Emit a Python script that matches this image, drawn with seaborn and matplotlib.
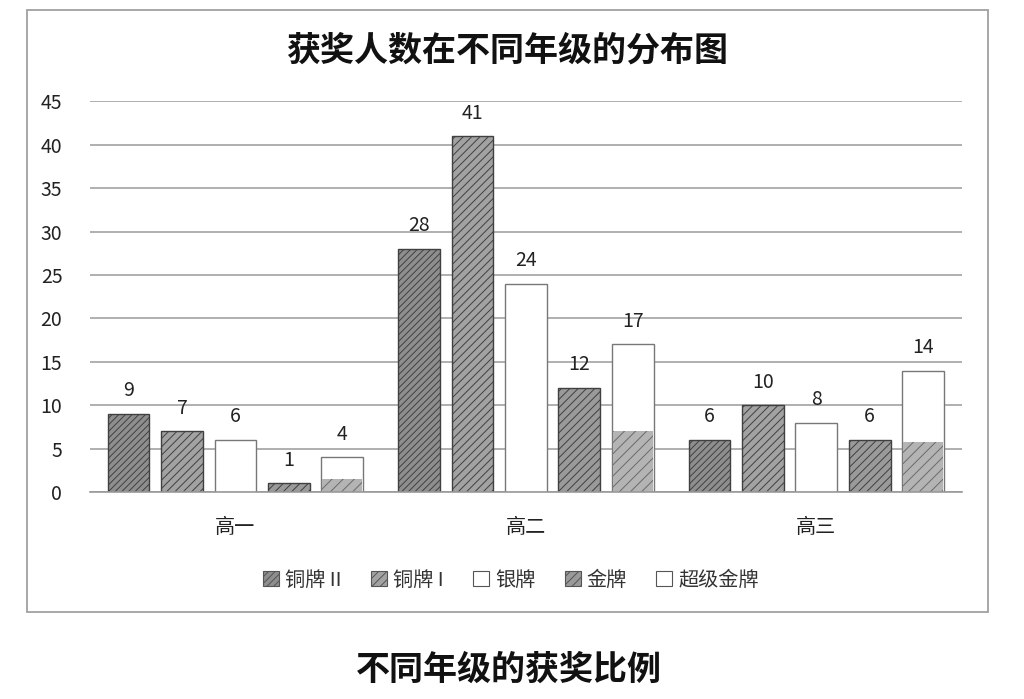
import seaborn as sns
import matplotlib.pyplot as plt
import pandas as pd
from matplotlib.patches import Patch, Rectangle

# data
grades = ['高一', '高二', '高三']
medals = ['铜牌 II', '铜牌 I', '银牌', '金牌', '超级金牌']
bronze2 = [9, 28, 6]
bronze1 = [7, 41, 10]
silver = [6, 24, 8]
gold = [1, 12, 6]
super_gold = [4, 17, 14]
# hatched lower part inside the 超级金牌 bars (sketch look)
super_fill = [1.5, 7, 5.8]

rows = []
for medal, vals in zip(medals, [bronze2, bronze1, silver, gold, super_gold]):
    for g, v in zip(grades, vals):
        rows.append({'年级': g, '人数': v, '奖项': medal})
df = pd.DataFrame(rows)

sns.set_style('white')
plt.rcParams['font.family'] = ['Noto Sans CJK SC', 'DejaVu Sans']
plt.rcParams['hatch.color'] = '#3a3a3a'
plt.rcParams['hatch.linewidth'] = 0.7

fig = plt.figure(figsize=(10.24, 6.99), dpi=100)
ax = fig.add_axes([0.088, 0.296, 0.851, 0.559])

sns.barplot(data=df, x='年级', y='人数', hue='奖项', hue_order=medals,
            width=0.92, gap=0.22, palette=['white'] * 5, legend=False, ax=ax)

faces = ['#8e8e8e', '#a2a2a2', 'white', '#9a9a9a', 'white']
hatches = ['/////', '////', '', '////', '']
for cont, fc, h in zip(ax.containers, faces, hatches):
    for bar in cont:
        bar.set_facecolor(fc)
        bar.set_hatch(h)
        bar.set_edgecolor('#404040' if h else '#777777')
        bar.set_linewidth(1.0)

# partial hatched fill inside the super gold bars
sg = ax.containers[4]
xs = [b.get_x() + b.get_width() / 2 for b in sg]
w = sg[0].get_width()
ax.bar(xs, super_fill, width=w * 0.95, color='#b4b4b4', hatch='///',
       edgecolor='#6a6a6a', linewidth=0, zorder=2.5)

for cont in ax.containers[:5]:
    ax.bar_label(cont, padding=9, fontsize=14, color='#222222')

ax.set_xlim(-0.5, 2.5)
ax.set_ylim(0, 45)
ax.set_yticks(range(0, 46, 5))
ax.yaxis.grid(True, color='#9a9a9a', linewidth=1.1)
ax.set_axisbelow(True)
for s in ['top', 'right', 'left']:
    ax.spines[s].set_visible(False)
ax.spines['bottom'].set_color('#999999')
ax.spines['bottom'].set_linewidth(1.2)
ax.tick_params(length=0, labelsize=14, colors='#222222')
ax.tick_params(axis='x', pad=18, labelsize=14.5)
ax.tick_params(axis='y', pad=20)
ax.set_xlabel('')
ax.set_ylabel('')

handles = [Patch(facecolor=fc, hatch=h, edgecolor='#555555', linewidth=0.8)
           for fc, h in zip(faces, hatches)]
ax.legend(handles, medals, loc='upper center', bbox_to_anchor=(0.483, -0.152),
          ncol=5, frameon=False, fontsize=14.5, handlelength=0.8, handleheight=0.8,
          handletextpad=0.3, columnspacing=1.45, labelcolor='#333333')

fig.text(0.495, 0.928, '获奖人数在不同年级的分布图', ha='center', va='center',
         fontsize=24.5, fontweight='bold', color='#111111')
fig.text(0.497, 0.042, '不同年级的获奖比例', ha='center', va='center',
         fontsize=24.5, fontweight='bold', color='#111111')

fig.add_artist(Rectangle((27 / 1024, 1 - 612 / 699), 961 / 1024, 602 / 699,
                         transform=fig.transFigure, fill=False,
                         edgecolor='#a0a0a0', linewidth=1.3))

fig.savefig('out.png', dpi=100, facecolor='white')
